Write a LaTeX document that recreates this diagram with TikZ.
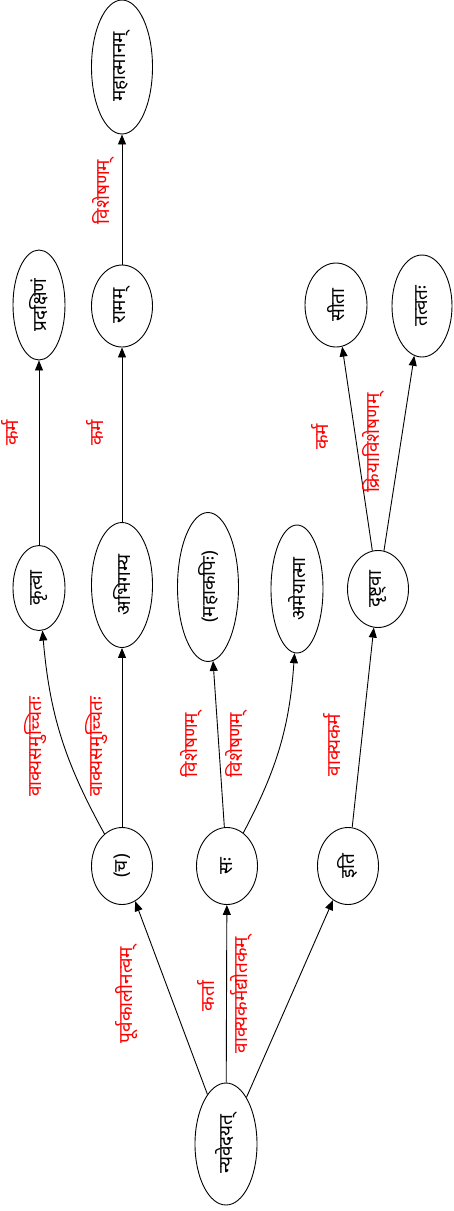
\documentclass[tikz,border=0pt]{standalone}
\usepackage{fontspec}
\usepackage{graphicx}
\newfontfamily\deva[Script=Devanagari]{Noto Sans}
\usetikzlibrary{arrows.meta,shapes.geometric}
\newcommand\rt[1]{\rotatebox{90}{#1}}
\begin{document}
\begin{tikzpicture}[x=1pt,y=-1pt,
  wnode/.style={draw,ellipse,line width=0.9pt,inner sep=0pt,font=\deva\fontsize{19}{22}\selectfont},
  elabel/.style={text=red,inner sep=0pt,font=\deva\fontsize{19}{22}\selectfont},
  edge/.style={draw,line width=0.9pt,-{Triangle[length=10pt,width=8pt]}}]
\useasboundingbox (0,0) rectangle (454,1211);
% nodes
\node[wnode,minimum width=62pt,minimum height=122pt] (root) at (226,1144) {\rt{न्यवेदयत्}};
\node[wnode,minimum width=61pt,minimum height=77pt] (ch) at (122,866) {\rt{(च)}};
\node[wnode,minimum width=61pt,minimum height=77pt] (sah) at (227,866) {\rt{सः}};
\node[wnode,minimum width=61pt,minimum height=77pt] (iti) at (348,866) {\rt{इति}};
\node[wnode,minimum width=52pt,minimum height=85pt] (krtva) at (39,588) {\rt{कृत्वा}};
\node[wnode,minimum width=61pt,minimum height=125pt] (abhi) at (122,585) {\rt{अभिगम्य}};
\node[wnode,minimum width=61pt,minimum height=149pt] (maha) at (208,587) {\rt{(महाकपिः)}};
\node[wnode,minimum width=52pt,minimum height=128pt] (ameya) at (297,589) {\rt{अमेयात्मा}};
\node[wnode,minimum width=61pt,minimum height=77pt] (drsh) at (378,589) {\rt{दृष्ट्वा}};
\node[wnode,minimum width=52pt,minimum height=110pt] (prad) at (39,305) {\rt{प्रदक्षिणं}};
\node[wnode,minimum width=61pt,minimum height=82pt] (ramam) at (122,306) {\rt{रामम्}};
\node[wnode,minimum width=61pt,minimum height=134pt] (mahat) at (122,67) {\rt{महात्मानम्}};
\node[wnode,minimum width=62pt,minimum height=84pt] (sita) at (336,305) {\rt{सीता}};
\node[wnode,minimum width=60pt,minimum height=102pt] (tatv) at (422,306) {\rt{तत्वतः}};
% edges
\draw[edge] (root) -- (ch);
\draw[edge] (root) -- (sah);
\draw[edge] (root) -- (iti);
\draw[edge] (ch) to[bend left=12] (krtva);
\draw[edge] (ch) -- (abhi);
\draw[edge] (sah) -- (maha);
\draw[edge] (sah) to[bend right=12] (ameya);
\draw[edge] (iti) -- (drsh);
\draw[edge] (krtva) -- (prad);
\draw[edge] (abhi) -- (ramam);
\draw[edge] (ramam) -- (mahat);
\draw[edge] (drsh) -- (sita);
\draw[edge] (drsh) -- (tatv);
% labels
\node[elabel] (l1) at (127,995) {\rt{पूर्वकालीनत्वम्}};
\node[elabel] (l2) at (206,996) {\rt{कर्ता}};
\node[elabel] (l3) at (241,995) {\rt{वाक्यकर्मद्योतकम्}};
\node[elabel] (l4) at (36,747) {\rt{वाक्यसमुच्चितः}};
\node[elabel] (l5) at (97,747) {\rt{वाक्यसमुच्चितः}};
\node[elabel] (l6) at (191,745) {\rt{विशेषणम्}};
\node[elabel] (l7) at (236,745) {\rt{विशेषणम्}};
\node[elabel] (l8) at (332,745) {\rt{वाक्यकर्म}};
\node[elabel] (l9) at (10,433) {\rt{कर्म}};
\node[elabel] (l10) at (95,433) {\rt{कर्म}};
\node[elabel] (l11) at (103,192) {\rt{विशेषणम्}};
\node[elabel] (l12) at (320,437) {\rt{कर्म}};
\node[elabel] (l13) at (373,443) {\rt{क्रियाविशेषणम्}};
\end{tikzpicture}
\end{document}
